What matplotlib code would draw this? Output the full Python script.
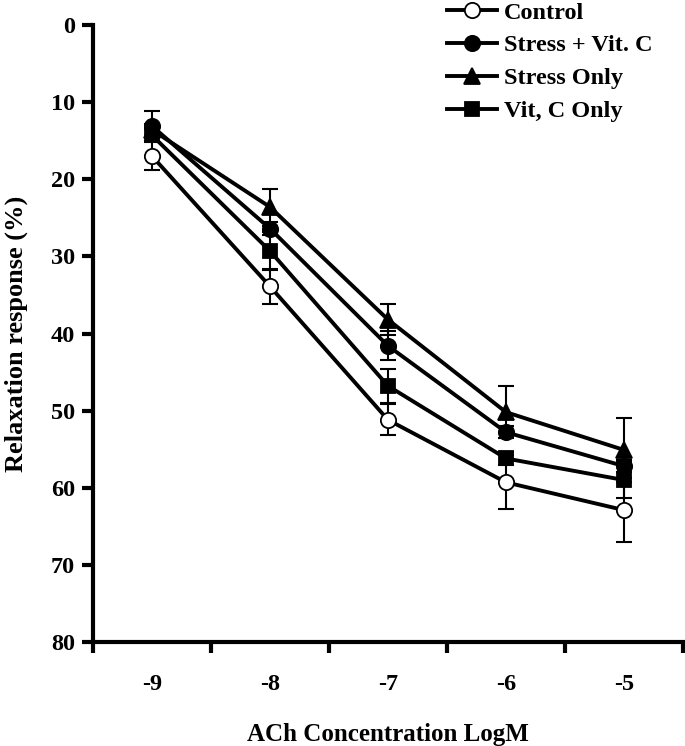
import matplotlib
matplotlib.use('Agg')
import matplotlib.pyplot as plt
from matplotlib.ticker import FixedLocator, NullFormatter

plt.rcParams['font.family'] = ['Liberation Serif', 'DejaVu Serif']
plt.rcParams['font.weight'] = 'bold'

log_conc = [-9, -8, -7, -6, -5]
control = [17.0, 33.9, 51.2, 59.3, 62.9]
control_err = [1.8, 2.3, 2.0, 3.5, 4.1]
stress_vitc = [13.1, 26.4, 41.6, 52.8, 57.2]
stress_vitc_err = [1.9, 0.8, 1.9, 0.8, 0.8]
stress_only = [13.6, 23.6, 38.2, 50.2, 55.1]
stress_only_err = [0.8, 2.4, 2.0, 3.4, 4.1]
vitc_only = [14.3, 29.3, 46.8, 56.2, 59.0]
vitc_only_err = [0.8, 2.5, 2.2, 0.8, 2.3]

series = [
    ('Control', control, control_err, 'o', 'white', 11),
    ('Stress + Vit. C', stress_vitc, stress_vitc_err, 'o', 'black', 11),
    ('Stress Only', stress_only, stress_only_err, '^', 'black', 12),
    ('Vit, C Only', vitc_only, vitc_only_err, 's', 'black', 10.5),
]

fig = plt.figure(figsize=(6.85, 7.46), dpi=100)
ax = fig.add_axes([93 / 685, 104 / 746, 590 / 685, 617 / 746])

for name, vals, err, mk, fc, ms in series:
    ax.errorbar(log_conc, vals, yerr=err, fmt='none', ecolor='black',
                elinewidth=1.5, capsize=6, capthick=1.5, zorder=2)
    ax.plot(log_conc, vals, color='black', lw=2.8, marker=mk,
            markersize=ms, markerfacecolor=fc, markeredgecolor='black',
            markeredgewidth=1.3, label=name, zorder=3)

ax.set_xlim(-9.5, -4.5)
ax.set_ylim(80, 0)
ax.set_yticks([0, 10, 20, 30, 40, 50, 60, 70, 80])
ax.xaxis.set_major_locator(FixedLocator([-9.5, -8.5, -7.5, -6.5, -5.5, -4.5]))
ax.xaxis.set_major_formatter(NullFormatter())
ax.xaxis.set_minor_locator(FixedLocator(log_conc))
ax.set_xticklabels(['-9', '-8', '-7', '-6', '-5'], minor=True)
ax.tick_params(axis='x', which='minor', length=0, pad=23, labelsize=17.5)
ax.tick_params(axis='x', which='major', length=8, width=3)
ax.tick_params(axis='y', length=8, width=3, labelsize=17.5, pad=5)

for s in ['top', 'right']:
    ax.spines[s].set_visible(False)
for s in ['left', 'bottom']:
    ax.spines[s].set_linewidth(3)

ax.set_xlabel('ACh Concentration LogM', fontsize=18, fontweight='bold', labelpad=20)
ax.set_ylabel('Relaxation response (%)', fontsize=19, fontweight='bold', labelpad=16)

ax.legend(loc='upper left', bbox_to_anchor=(447 / 685, 0.998), bbox_transform=fig.transFigure,
          frameon=False, fontsize=17.5, handlelength=2.05, handletextpad=0.3,
          labelspacing=0.45, borderaxespad=0.0, borderpad=0.0)

fig.savefig('out.png', dpi=100)
